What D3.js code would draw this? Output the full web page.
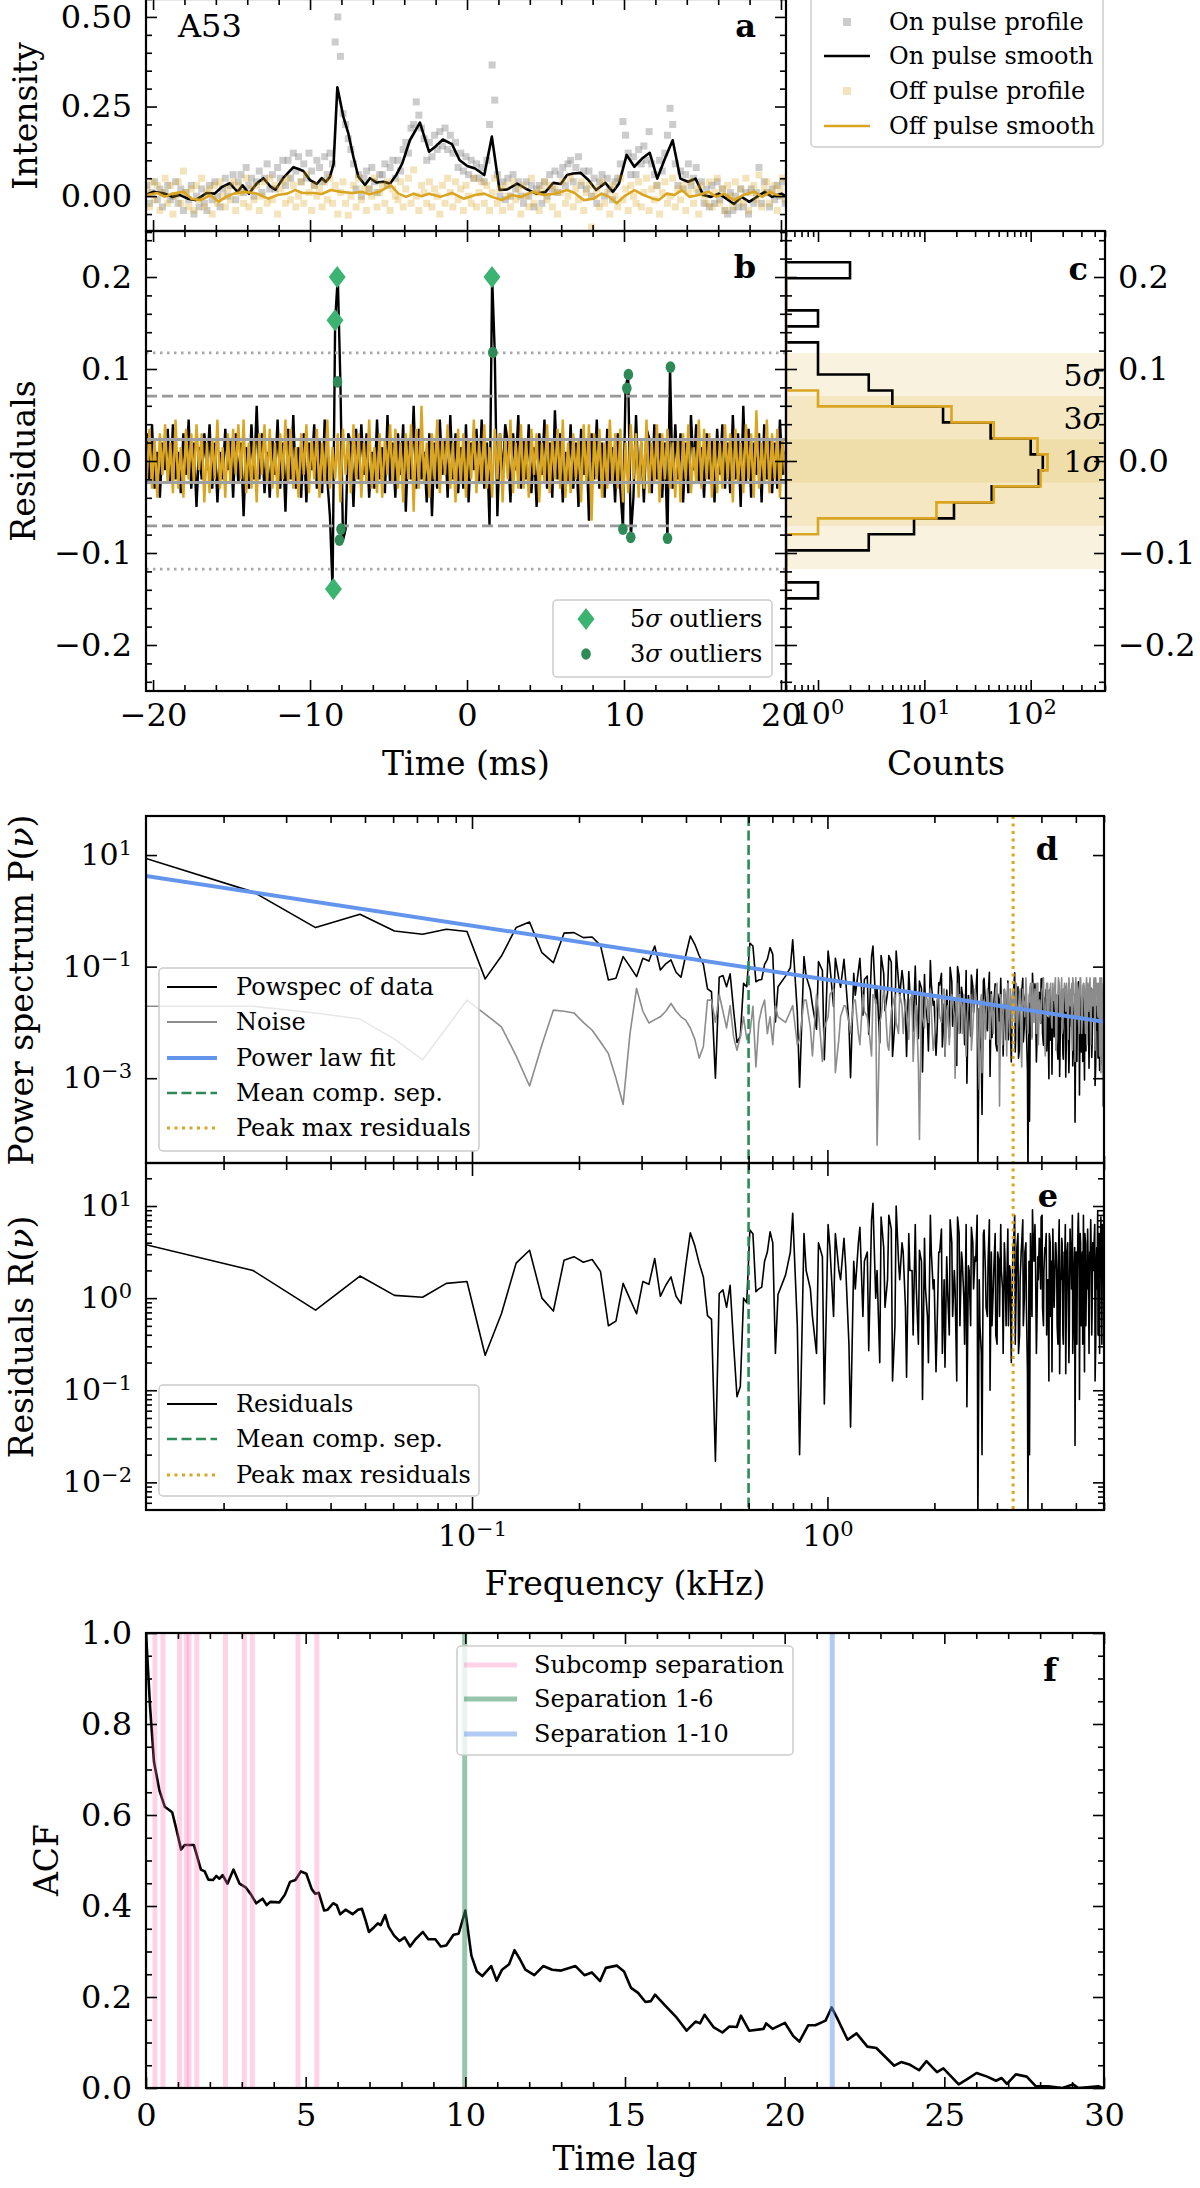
<!DOCTYPE html>
<html>
<head>
<meta charset="utf-8">
<script src="https://cdn.jsdelivr.net/npm/d3@7"></script>
<style>
  body { margin: 0; background: #fff; }
  svg text { font-family: "DejaVu Serif", serif; }
</style>
</head>
<body>
<svg id="chart" width="1200" height="2188"></svg>
<script>
// ---------- data: pulse profile (panel a) ----------
var TIME_START = -20.4, TIME_STEP = 1 / 6;   // sample grid in ms

var onPulseProfile = [
  0.03, -0.02, 0.01, 0.04, -0.01, 0.02,
  -0.03, 0.01, 0.03, -0.01, 0.0, 0.04,
  -0.02, 0.02, -0.04, 0.01, -0.01, 0.03,
  -0.05, 0.0, -0.03, 0.02, -0.02, -0.04,
  0.03, -0.01, 0.04, 0.0, -0.03, 0.02,
  0.05, 0.0, 0.03, 0.06, -0.01, 0.04,
  0.06, 0.01, 0.08, 0.03, 0.05, 0.0,
  0.04, 0.07, 0.01, 0.05, 0.09, 0.02,
  0.06, 0.02, 0.08, 0.05, 0.1, 0.03,
  0.1, 0.05, 0.12, 0.07, 0.11, 0.04,
  0.09, 0.05, 0.12, 0.07, 0.03, 0.1,
  0.08, 0.04, 0.11, 0.06, 0.12, 0.09,
  0.43, 0.5, 0.39, 0.23, 0.2, 0.16,
  0.13, 0.09, 0.02, 0.06, 0.0, 0.05,
  0.07, 0.02, 0.08, 0.04, 0.01, 0.06,
  0.06, 0.09, 0.03, 0.08, 0.1, 0.05,
  0.1, 0.07, 0.13, 0.15, 0.12, 0.19,
  0.2, 0.263, 0.226, 0.19, 0.16, 0.1,
  0.15, 0.11, 0.17, 0.13, 0.18, 0.14,
  0.19, 0.13, 0.17, 0.12, 0.15, 0.08,
  0.12, 0.07, 0.11, 0.06, 0.1, 0.05,
  0.09, 0.05, 0.08, 0.04, 0.1, 0.2,
  0.366, 0.268, 0.06, 0.0, 0.04, -0.01,
  0.05, 0.0, 0.06, 0.02, 0.04, 0.0,
  -0.02, 0.04, 0.0, 0.03, -0.03, 0.02,
  0.03, -0.02, 0.04, 0.0, 0.06, 0.02,
  0.07, 0.01, 0.06, 0.08, 0.03, 0.09,
  0.1, 0.04, 0.08, 0.11, 0.03, 0.07,
  0.02, 0.07, 0.0, 0.05, -0.02, 0.04,
  0.06, 0.0, 0.05, 0.02, -0.01, 0.04,
  0.05, 0.09, 0.208, 0.17, 0.12, 0.06,
  0.11, 0.06, 0.13, 0.09, 0.14, 0.1,
  0.18, 0.09, 0.06, 0.03, 0.1, 0.07,
  0.12, 0.17, 0.245, 0.2, 0.09, 0.03,
  0.07, 0.02, 0.06, 0.09, 0.03, 0.05,
  0.08, 0.01, 0.04, -0.02, 0.02, -0.03,
  0.03, -0.02, 0.04, -0.01, 0.02, -0.04,
  -0.05, 0.01, -0.04, 0.0, -0.03, 0.02,
  -0.03, 0.01, -0.05, 0.02, -0.02, 0.01,
  0.08, -0.02, 0.04, 0.01, -0.03, 0.02,
  -0.01, 0.03, 0.0, 0.04, -0.02
];

var offPulseProfile = [
  0.02, -0.03, 0.04, -0.01, 0.03, -0.04,
  0.01, 0.05, -0.02, 0.03, -0.05, 0.0,
  0.04, -0.02, 0.07, 0.01, -0.03, 0.02,
  -0.04, 0.03, -0.01, 0.05, -0.03, 0.01,
  0.02, -0.05, 0.03, -0.02, 0.04, 0.0,
  -0.03, 0.02, -0.01, 0.04, -0.04, 0.03,
  0.01, -0.02, 0.05, -0.03, 0.02, -0.01,
  0.03, -0.04, 0.0, 0.04, -0.02, 0.05,
  -0.01, 0.03, -0.05, 0.02, 0.04, -0.02,
  0.05, -0.01, 0.03, -0.03, 0.0, 0.04,
  -0.02, 0.06, 0.01, -0.04, 0.03, 0.0,
  0.02, -0.03, 0.04, -0.01, 0.05, -0.02,
  0.03, -0.05, 0.01, 0.04, -0.02, -0.053,
  0.0, 0.03, -0.03, 0.05, -0.01, 0.02,
  -0.04, 0.02, 0.0, 0.05, -0.03, 0.01,
  0.03, -0.02, 0.04, -0.04, 0.02, 0.0,
  -0.01, 0.04, -0.03, 0.02, 0.05, -0.02,
  0.073, 0.0, -0.04, 0.03, 0.01, -0.02,
  0.04, -0.03, 0.02, 0.0, -0.05, 0.03,
  -0.02, 0.05, 0.01, -0.03, 0.04, -0.01,
  0.02, -0.04, 0.03, 0.0, -0.02, 0.05,
  -0.03, 0.01, 0.04, -0.02, 0.03, -0.04,
  0.01, 0.05, -0.02, 0.02, -0.04, 0.03,
  0.0, -0.03, 0.04, -0.01, 0.02, -0.05,
  0.03, 0.0, -0.03, 0.05, -0.02, 0.01,
  -0.04, 0.02, 0.04, -0.01, 0.03, -0.03,
  0.02, -0.05, 0.01, 0.04, -0.02, 0.0,
  0.05, -0.03, 0.02, -0.01, 0.04, -0.04,
  0.01, 0.03, -0.086, 0.0, 0.02, -0.03,
  0.04, -0.02, 0.01, -0.05, 0.03, 0.0,
  -0.03, 0.05, -0.01, 0.02, -0.04, 0.03,
  0.0, -0.02, 0.04, -0.03, 0.01, 0.05,
  -0.04, 0.02, -0.01, 0.03, -0.05, 0.01,
  0.04, -0.02, 0.0, 0.05, -0.03, 0.02,
  -0.01, 0.03, -0.04, 0.01, 0.04, -0.02,
  0.02, -0.05, 0.03, 0.0, -0.02, 0.04,
  -0.03, 0.01, 0.05, -0.02, 0.02, -0.04,
  0.03, 0.0, -0.03, 0.04, -0.01, 0.02,
  -0.02, 0.05, -0.04, 0.01, 0.03, -0.01,
  0.059, -0.03, 0.02, 0.04, -0.02, 0.01,
  0.03, -0.04, 0.02, 0.05, -0.01
];

// smoothed profiles, [time ms, intensity]
var onPulseSmooth = [
  [-20.4, 0.005], [-20.0, 0.012], [-19.26, 0.007], [-18.77, -0.002], [-18.28, 0.003], [-17.79, -0.007],
  [-17.3, -0.011], [-16.96, -0.002], [-16.57, 0.009], [-16.08, 0.007], [-15.6, 0.026], [-15.11, 0.036],
  [-14.62, 0.012], [-14.3, 0.03], [-13.89, 0.007], [-13.4, 0.035], [-12.97, 0.05], [-12.5, 0.026],
  [-12.2, 0.018], [-11.7, 0.051], [-11.06, 0.081], [-10.7, 0.075], [-10.43, 0.07], [-10.0, 0.045],
  [-9.57, 0.034], [-9.25, 0.05], [-9.0, 0.04], [-8.73, 0.054], [-8.5, 0.09], [-8.26, 0.304],
  [-7.88, 0.222], [-7.56, 0.175], [-7.24, 0.11], [-6.92, 0.054], [-6.5, 0.031], [-6.18, 0.05],
  [-5.75, 0.038], [-5.33, 0.04], [-4.9, 0.035], [-4.5, 0.06], [-4.13, 0.091], [-3.64, 0.156],
  [-3.0, 0.205], [-2.42, 0.124], [-2.03, 0.138], [-1.54, 0.158], [-0.96, 0.145], [-0.47, 0.1],
  [0.02, 0.084], [0.51, 0.077], [1.1, 0.059], [1.58, 0.166], [2.07, 0.017], [2.56, 0.019],
  [3.19, 0.035], [3.83, 0.019], [4.41, 0.007], [5.0, 0.012], [5.49, 0.037], [5.97, 0.034],
  [6.37, 0.059], [6.76, 0.063], [7.24, 0.065], [7.73, 0.045], [8.22, 0.017], [8.81, 0.037],
  [9.29, 0.012], [9.68, 0.035], [10.17, 0.115], [10.66, 0.082], [11.15, 0.105], [11.64, 0.121],
  [12.12, 0.049], [12.61, 0.105], [13.1, 0.156], [13.59, 0.049], [14.08, 0.04], [14.56, 0.049],
  [15.05, 0.003], [15.54, -0.002], [16.03, 0.007], [16.52, -0.007], [17.0, -0.022], [17.49, -0.002],
  [17.98, -0.016], [18.47, -0.002], [18.96, 0.012], [19.44, -0.002], [20.03, 0.007], [20.3, 0.0]
];

var offPulseSmooth = [
  [-20.38, 0.003], [-19.75, 0.009], [-19.26, -0.002], [-18.77, 0.007], [-18.04, 0.012], [-17.55, -0.007],
  [-16.96, -0.011], [-16.33, 0.003], [-15.84, -0.016], [-15.35, -0.002], [-14.86, 0.007], [-14.13, 0.012],
  [-13.4, 0.007], [-12.67, -0.007], [-12.08, 0.003], [-11.45, 0.007], [-10.96, 0.017], [-10.47, 0.009],
  [-9.74, 0.009], [-9.25, 0.006], [-8.67, 0.017], [-8.03, 0.012], [-7.3, 0.009], [-6.71, 0.012],
  [-6.23, 0.005], [-5.59, 0.012], [-4.86, 0.031], [-4.37, 0.007], [-3.88, -0.002], [-3.4, 0.007],
  [-2.91, 0.0], [-2.42, 0.007], [-1.69, -0.002], [-0.96, 0.009], [-0.22, -0.007], [0.51, 0.003],
  [1.09, 0.007], [1.58, -0.002], [2.22, -0.011], [2.85, 0.003], [3.44, -0.002], [4.17, 0.012],
  [4.9, 0.003], [5.63, 0.007], [6.37, 0.017], [6.85, 0.009], [7.44, -0.011], [8.07, -0.007],
  [8.56, 0.007], [9.05, -0.002], [9.54, -0.02], [10.03, 0.0], [10.66, 0.017], [11.25, 0.003],
  [11.83, -0.007], [12.22, -0.011], [12.71, 0.007], [13.2, 0.003], [13.69, 0.017], [14.17, -0.002],
  [14.76, 0.003], [15.39, 0.012], [15.88, -0.002], [16.37, 0.007], [17.0, -0.011], [17.59, 0.003],
  [18.32, 0.012], [18.81, -0.002], [19.3, 0.012], [20.03, -0.002]
];

// ---------- data: residuals (panel b) ----------
var onResiduals = [
  0.03, -0.02, 0.04, -0.03, 0.01, -0.04,
  0.02, -0.01, 0.035, -0.025, 0.04, -0.02,
  0.01, -0.035, 0.03, -0.015, 0.045, -0.03,
  0.02, -0.05, 0.015, -0.02, 0.03, -0.01,
  0.04, -0.03, 0.02, -0.045, 0.01, -0.02,
  0.035, -0.01, 0.025, -0.04, 0.03, -0.025,
  0.02, -0.06, 0.015, -0.03, 0.04, -0.02,
  0.06, -0.02, 0.03, -0.035, 0.01, -0.04,
  0.025, -0.015, 0.045, -0.03, 0.02, -0.055,
  0.035, -0.02, 0.05, -0.03, 0.015, -0.04,
  0.03, -0.045, 0.02, -0.01, 0.04, -0.03,
  0.025, -0.035, 0.045, -0.02, -0.06, -0.139,
  0.153, 0.2, 0.086, -0.086, -0.074, 0.03,
  0.02, -0.05, 0.035, -0.02, 0.04, -0.015,
  0.03, -0.04, 0.01, -0.03, 0.045, -0.02,
  0.015, -0.035, 0.05, -0.025, 0.02, -0.04,
  0.03, -0.015, 0.04, -0.055, 0.025, -0.02,
  0.06, -0.03, 0.035, -0.02, 0.01, -0.045,
  0.03, -0.06, 0.02, -0.03, 0.045, -0.015,
  0.025, -0.04, 0.05, -0.02, 0.03, -0.035,
  0.015, -0.03, 0.04, -0.045, 0.02, -0.01,
  0.035, -0.025, 0.045, -0.03, 0.02, -0.07,
  0.2, 0.118, -0.06, 0.03, -0.02, 0.04,
  0.02, -0.045, 0.03, -0.01, 0.05, -0.03,
  0.025, -0.02, 0.04, -0.035, 0.015, -0.05,
  0.03, -0.015, 0.045, -0.03, 0.02, -0.04,
  0.055, -0.02, 0.03, -0.045, 0.01, -0.025,
  0.04, -0.03, 0.02, -0.05, 0.035, -0.015,
  0.025, -0.065, 0.03, -0.02, 0.045, -0.03,
  0.02, -0.04, 0.035, -0.025, 0.015, -0.045,
  0.03, -0.03, -0.074, 0.079, 0.094, -0.083,
  -0.04, 0.05, -0.03, 0.02, -0.045, 0.035,
  0.025, -0.035, 0.04, -0.02, 0.03, -0.04,
  0.02, -0.084, 0.102, -0.03, 0.04, -0.02,
  0.03, -0.045, 0.02, -0.035, 0.05, -0.01,
  0.04, -0.025, 0.015, -0.04, 0.03, -0.02,
  0.025, -0.045, 0.035, -0.015, 0.04, -0.03,
  0.02, -0.035, 0.05, -0.02, 0.03, -0.05,
  0.06, -0.025, 0.035, -0.04, 0.02, -0.015,
  0.03, -0.045, 0.04, -0.02, 0.025, -0.035,
  0.02, -0.03, 0.045, -0.015, 0.01
];

var offResiduals = [
  -0.02, 0.035, -0.03, 0.025, -0.04, 0.03,
  -0.015, 0.04, -0.025, 0.02, -0.035, 0.045,
  -0.03, 0.015, -0.04, 0.035, -0.02, 0.03,
  -0.025, 0.04, -0.01, 0.03, -0.045, 0.02,
  -0.035, 0.025, -0.02, 0.045, -0.03, 0.015,
  -0.04, 0.03, -0.025, 0.035, -0.015, 0.04,
  -0.02, 0.045, -0.035, 0.02, -0.03, 0.025,
  -0.045, 0.03, -0.015, 0.04, -0.025, 0.035,
  -0.03, 0.02, -0.04, 0.03, -0.02, 0.045,
  -0.025, 0.035, -0.03, 0.015, -0.04, 0.03,
  -0.015, 0.04, -0.035, 0.025, -0.02, 0.035,
  -0.04, 0.02, -0.025, 0.045, -0.03, 0.015,
  -0.02, 0.03, -0.045, 0.035, -0.015, 0.025,
  -0.035, 0.04, -0.02, 0.03, -0.04, 0.02,
  -0.025, 0.045, -0.03, 0.015, -0.035, 0.03,
  -0.04, 0.025, -0.015, 0.04, -0.025, 0.035,
  -0.03, 0.02, -0.045, 0.03, -0.02, 0.04,
  -0.055, 0.035, -0.03, 0.06, -0.025, 0.02,
  -0.04, 0.03, -0.02, 0.045, -0.035, 0.025,
  -0.015, 0.04, -0.03, 0.02, -0.045, 0.035,
  -0.025, 0.03, -0.04, 0.025, -0.02, 0.045,
  -0.035, 0.02, -0.025, 0.04, -0.03, 0.015,
  -0.04, 0.035, -0.02, 0.03, -0.045, 0.025,
  -0.02, 0.045, -0.035, 0.02, -0.03, 0.04,
  -0.03, 0.025, -0.04, 0.035, -0.015, 0.03,
  -0.045, 0.02, -0.025, 0.04, -0.035, 0.025,
  -0.02, 0.035, -0.03, 0.045, -0.04, 0.02,
  -0.035, 0.03, -0.02, 0.025, -0.045, 0.04,
  -0.025, 0.04, -0.065, 0.03, -0.02, 0.035,
  -0.04, 0.02, -0.03, 0.045, -0.025, 0.03,
  -0.03, 0.035, -0.045, 0.02, -0.035, 0.04,
  -0.02, 0.03, -0.04, 0.025, -0.03, 0.045,
  -0.035, 0.02, -0.025, 0.04, -0.045, 0.03,
  -0.02, 0.035, -0.03, 0.02, -0.04, 0.025,
  -0.045, 0.03, -0.02, 0.04, -0.035, 0.015,
  -0.025, 0.045, -0.03, 0.035, -0.02, 0.03,
  -0.04, 0.025, -0.035, 0.02, -0.03, 0.04,
  -0.02, 0.03, -0.045, 0.035, -0.025, 0.02,
  -0.035, 0.04, -0.02, 0.03, -0.04, 0.055,
  -0.03, 0.02, -0.025, 0.045, -0.035, 0.03,
  -0.02, 0.035, -0.04, 0.025, -0.015
];

var outliers5 = [[-8.27, 0.2], [-8.41, 0.153], [-8.51, -0.139], [1.59, 0.2]];
var outliers3 = [[-8.25, 0.086], [-8.03, -0.074], [-8.13, -0.086], [1.64, 0.118], [10.28, 0.094],
                 [10.18, 0.079], [9.93, -0.074], [10.43, -0.083], [12.96, 0.102], [12.77, -0.084]];
var sigmaLevels = [0.0235, 0.0705, 0.1175];   // 1, 3, 5 sigma
var sigmaNames = ['1', '3', '5'];

// ---------- data: residual histogram (panel c) ----------
var histEdges = [-0.1493, -0.1319, -0.1145, -0.0971, -0.0797, -0.0624, -0.0450, -0.0276, -0.0102, 0.0072,
                 0.0246, 0.0420, 0.0594, 0.0767, 0.0941, 0.1115, 0.1289, 0.1463, 0.1637, 0.1812, 0.1986, 0.2160];
var onCounts  = [1, 0, 0, 3, 8, 19, 43, 119, 130, 100, 42, 15, 5, 3, 1, 1, 0, 1, 0, 0, 2];
var offCounts = [0, 0, 0, 0, 1, 13, 45, 124, 144, 116, 45, 18, 1, 0, 0, 0, 0, 0, 0, 0, 0];

// ---------- data: power spectrum (panels d, e), values are log10 ----------
var FREQ_RES = 0.0121;  // kHz per bin
var binsLow = d3.range(1, 61), binsHigh = d3.range(63, 496, 3), binsHigh2 = d3.range(65, 496, 3);

var powspecLog = [
  0.94, 0.34, -0.30, -0.06, -0.36, -0.42, -0.33, -0.37, -1.22, -0.81,
  -0.30, -0.20, -0.75, -0.93, -0.40, -0.39, -0.48, -0.47, -0.62, -1.24,
  -1.21, -0.82, -1.0, -1.18, -0.85, -0.9, -0.63, -1.06, -0.95, -0.88,
  -1.1, -1.19, -0.8, -0.45, -0.6, -0.8, -0.96, -1.4, -1.45, -3.0,
  -1.19, -1.16, -1.36, -1.13, -1.78, -2.36, -2.25, -1.3, -1.36, -0.58,
  -0.63, -1.27, -1.24, -1.23, -0.96, -0.87, -0.66, -0.78, -1.99, -1.36,
  -1.17, -0.52, -3.16, -1.17, -1.69, -0.91, -2.67, -0.99, -0.85, -1.37, -1.23, -2.99,
  -1.51, -0.85, -1.23, -2.21, -0.63, -1.37, -0.80, -1.79, -0.80, -2.61, -0.72, -1.53,
  -1.24, -2.61, -1.46, -2.16, -1.67, -1.26, -2.89, -1.70, -2.51, -1.31, -1.62, -2.23,
  -1.33, -2.44, -2.6, -1.76, -1.01, -2.07, -1.78, -1.0, -2.19, -1.49, -2.4, -3.09,
  -1.61, -1.15, -1.82, -1.53, -4.8, -2.24, -3.65, -1.21, -2.06, -1.56, -2.97, -2.27,
  -1.64, -2.38, -1.49, -2.19, -1.7, -2.6, -1.55, -1.91, -2.31, -1.72, -2.12, -1.43,
  -2.53, -1.49, -2.64, -1.84, -1.45, -2.35, -1.56, -2.16, -4.8, -3.77, -1.77, -1.12,
  -1.68, -1.58, -2.39, -1.89, -1.5, -1.22, -2.2, -1.81, -1.61, -2.51, -1.92, -1.42,
  -2.32, -2.93, -1.73, -2.03, -1.54, -2.44, -1.69, -2.97, -1.95, -1.55, -2.66, -1.86,
  -2.98, -1.67, -1.97, -2.57, -1.57, -2.08, -2.78, -1.88, -3.79, -1.69, -1.99, -1.27,
  -3.3, -1.6, -2.0, -2.7, -1.81, -1.51, -2.51, -2.11, -1.72, -2.82, -1.92, -1.62,
  -2.43, -1.73, -1.63, -3.13, -1.94, -2.14, -2.64, -1.54, -2.05, -1.37, -2.75, -1.85,
  -1.6
];
// interleaved high-frequency bins (binsHigh2)
var powspecLog2 = [
  -1.02, -1.82, -0.82, -1.42, -2.12, -1.07, -0.72, -1.72, -1.22, -0.87, -2.02, -1.12,
  -1.07, -1.87, -1.17, -0.82, -1.67, -2.37, -1.12, -1.47, -0.92, -1.97, -1.27, -1.07,
  -1.89, -1.09, -1.49, -0.99, -2.29, -1.39, -1.14, -1.99, -0.89, -1.69, -2.59, -1.29,
  -1.12, -1.67, -1.42, -2.27, -1.27, -1.57, -2.77, -1.17, -1.37, -1.87, -1.07, -1.52,
  -2.25, -1.35, -1.5, -1.05, -1.75, -2.55, -1.25, -1.65, -2.15, -1.1, -1.45, -1.85,
  -1.31, -2.51, -1.61, -1.21, -1.91, -1.41, -2.31, -1.26, -1.66, -2.71, -1.46, -1.11,
  -1.86, -1.36, -2.46, -1.56, -1.21, -2.06, -1.46, -2.86, -1.66, -1.36, -2.26, -1.56,
  -1.31, -2.71, -1.66, -1.46, -2.01, -1.21, -2.41, -1.56, -1.41, -1.91, -3.01, -1.51,
  -1.76, -1.41, -2.26, -1.56, -1.86, -2.66, -1.31, -1.96, -1.51, -2.56, -1.66, -1.36,
  -2.1, -1.6, -2.9, -1.45, -1.8, -1.3, -2.4, -1.65, -1.9, -2.7, -1.4, -1.75,
  -1.53, -2.53, -1.73, -1.33, -3.03, -1.63, -1.88, -1.48, -2.33, -1.73, -1.38, -2.63,
  -1.66, -1.96, -1.46, -2.76, -1.71, -1.31, -2.16, -2.86, -1.56, -1.86, -1.46, -2.06
];

var noiseLog = [
  -1.71, -1.71, -1.83, -1.94, -2.3, -2.67, -2.1, -1.6, -1.85, -2.08,
  -2.6, -3.14, -2.4, -1.78, -1.8, -1.83, -2.0, -2.14, -2.35, -2.56,
  -3.0, -3.47, -2.2, -1.39, -1.8, -2.01, -1.95, -1.9, -1.8, -1.66,
  -1.8, -1.9, -1.96, -2.1, -2.3, -2.64, -2.43, -1.6, -1.6, -2.0,
  -1.5, -1.8, -2.1, -1.7, -2.26, -2.5, -2.26, -1.9, -2.3, -2.2,
  -1.71, -2.8, -2.0, -1.75, -1.6, -2.2, -1.9, -2.4, -1.7, -1.9,
  -2.0, -1.7, -2.3, -1.6, -2.6, -1.8, -2.1, -1.5, -2.9, -1.9, -1.7, -2.2,
  -1.6, -2.4, -1.8, -2.1, -1.5, -4.2, -1.9, -1.6, -2.5, -1.7, -2.0, -1.5,
  -2.2, -1.8, -1.6, -2.7, -1.7, -4.1, -1.9, -1.5, -2.0, -1.8, -2.4, -1.6,
  -1.9, -1.5, -2.6, -1.7, -2.1, -1.6, -3.0, -1.8, -1.5, -2.2, -1.7, -2.0,
  -1.6, -2.5, -1.8, -1.5, -2.2, -1.7, -2.9, -1.6, -1.9, -1.5, -2.3, -1.7,
  -1.8, -1.4, -2.4, -3.5, -1.6, -2.0, -1.5, -2.6, -1.7, -1.4, -2.1, -1.6,
  -1.5, -2.3, -1.7, -1.4, -2.8, -1.6, -1.9, -1.4, -2.2, -1.5, -1.8, -1.3,
  -2.0, -1.5, -1.3, -2.4, -1.6, -1.9, -1.4, -1.6, -2.6, -1.3, -1.8, -1.5,
  -1.3, -2.1, -1.6, -1.4, -2.5, -1.5, -1.2, -1.9, -1.5, -2.2, -1.4, -1.3,
  -1.8, -1.4, -2.3, -1.3, -1.6, -2.0, -1.2, -1.5, -2.7, -1.4, -1.3, -1.9,
  -1.5, -1.2, -2.2, -1.6, -1.3, -1.8, -1.4, -2.4, -1.3, -1.5, -1.2, -2.0,
  -1.4, -1.7, -1.2, -2.5, -1.5, -1.3, -1.9, -1.4, -1.2, -2.9, -1.6, -3.5,
  -2.0
];
var noiseLog2 = [
  -1.8, -2.4, -1.6, -2.1, -1.5, -2.7, -1.9, -1.4, -2.3, -1.7, -2.0, -1.6,
  -2.2, -1.5, -1.9, -2.6, -1.6, -2.0, -1.4, -2.4, -1.8, -1.5, -2.2, -1.7,
  -1.6, -2.3, -1.5, -1.9, -2.8, -1.5, -2.1, -1.6, -1.4, -2.5, -1.8, -1.5,
  -2.0, -1.4, -1.8, -2.4, -1.5, -1.9, -1.3, -2.2, -1.7, -1.5, -2.6, -1.6,
  -1.5, -2.1, -1.4, -1.8, -3.2, -1.5, -1.7, -2.3, -1.4, -1.9, -1.5, -2.2,
  -1.6, -1.3, -2.0, -1.5, -2.4, -1.4, -1.8, -1.3, -2.2, -1.6, -1.4, -2.0,
  -1.3, -1.9, -1.5, -2.5, -1.4, -1.7, -1.2, -2.1, -1.5, -1.3, -2.3, -1.6,
  -1.4, -2.2, -1.3, -1.7, -2.0, -1.4, -1.2, -2.4, -1.5, -1.3, -1.9, -1.4,
  -2.0, -1.3, -1.6, -1.2, -2.3, -1.5, -1.3, -1.8, -1.2, -2.1, -1.4, -1.6,
  -1.3, -2.0, -1.2, -1.7, -1.4, -2.5, -1.3, -1.5, -1.2, -1.9, -1.4, -2.2,
  -1.2, -1.6, -1.9, -1.3, -1.5, -2.2, -1.2, -1.4, -1.8, -1.3, -2.4, -1.5,
  -1.7, -1.3, -2.1, -1.2, -1.5, -1.8, -1.3, -2.6, -1.4, -1.2, -1.6, -1.3
];

var residLog = [
  0.58, 0.30, -0.13, 0.24, 0.03, 0.01, 0.16, 0.18, -0.62, -0.17,
  0.38, 0.52, 0.0, -0.14, 0.41, 0.45, 0.39, 0.42, 0.29, -0.30,
  -0.25, 0.16, -0.01, -0.17, 0.18, 0.15, 0.43, 0.02, 0.14, 0.23,
  0.02, -0.06, 0.35, 0.71, 0.57, 0.38, 0.23, -0.19, -0.23, -1.77,
  0.05, 0.09, -0.1, 0.14, -0.5, -1.07, -0.96, 0.0, -0.05, 0.74,
  0.7, 0.07, 0.1, 0.12, 0.4, 0.5, 0.72, 0.6, -0.6, 0.04,
  0.25, 0.92, -1.7, 0.3, -0.2, 0.6, -1.15, 0.55, 0.7, 0.2, 0.35, -1.4,
  0.1, 0.77, 0.4, -0.57, 1.03, 0.3, 0.88, -0.1, 0.9, -0.9, 1.0, 0.2,
  0.5, -0.86, 0.3, -0.4, 0.1, 0.52, -1.1, 0.1, -0.7, 0.5, 0.2, -0.4,
  0.5, -0.6, -0.75, 0.1, 0.85, -0.2, 0.1, 0.88, -0.3, 0.4, -0.5, -1.18,
  0.3, 0.77, 0.1, 0.4, -2.5, -0.3, -1.7, 0.74, -0.1, 0.4, -1.0, -0.3,
  0.34, -0.4, 0.5, -0.2, 0.3, -0.6, 0.45, 0.1, -0.3, 0.3, -0.1, 0.6,
  -0.5, 0.55, -0.6, 0.2, 0.6, -0.3, 0.5, -0.1, -2.5, -1.7, 0.3, 0.96,
  0.4, 0.5, -0.3, 0.2, 0.6, 0.88, -0.1, 0.3, 0.5, -0.4, 0.2, 0.7,
  -0.2, -0.8, 0.4, 0.1, 0.6, -0.3, 0.45, -0.82, 0.2, 0.6, -0.5, 0.3,
  -0.82, 0.5, 0.2, -0.4, 0.6, 0.1, -0.6, 0.3, -1.6, 0.5, 0.2, 0.92,
  -1.1, 0.6, 0.2, -0.5, 0.4, 0.7, -0.3, 0.1, 0.5, -0.6, 0.3, 0.6,
  -0.2, 0.5, 0.6, -0.9, 0.3, 0.1, -0.4, 0.7, 0.2, 0.88, -0.5, 0.4,
  0.6
];
var residLog2 = [
  0.5, -0.3, 0.7, 0.1, -0.6, 0.45, 0.8, -0.2, 0.3, 0.65, -0.5, 0.4,
  0.6, -0.2, 0.5, 0.85, 0.0, -0.7, 0.55, 0.2, 0.75, -0.3, 0.4, 0.6,
  -0.1, 0.7, 0.3, 0.8, -0.5, 0.4, 0.65, -0.2, 0.9, 0.1, -0.8, 0.5,
  0.75, 0.2, 0.45, -0.4, 0.6, 0.3, -0.9, 0.7, 0.5, 0.0, 0.8, 0.35,
  -0.3, 0.6, 0.45, 0.9, 0.2, -0.6, 0.7, 0.3, -0.2, 0.85, 0.5, 0.1,
  0.7, -0.5, 0.4, 0.8, 0.1, 0.6, -0.3, 0.75, 0.35, -0.7, 0.55, 0.9,
  0.2, 0.7, -0.4, 0.5, 0.85, 0.0, 0.6, -0.8, 0.4, 0.7, -0.2, 0.5,
  0.8, -0.6, 0.45, 0.65, 0.1, 0.9, -0.3, 0.55, 0.7, 0.2, -0.9, 0.6,
  0.4, 0.75, -0.1, 0.6, 0.3, -0.5, 0.85, 0.2, 0.65, -0.4, 0.5, 0.8,
  0.1, 0.6, -0.7, 0.75, 0.4, 0.9, -0.2, 0.55, 0.3, -0.5, 0.8, 0.45,
  0.7, -0.3, 0.5, 0.9, -0.8, 0.6, 0.35, 0.75, -0.1, 0.5, 0.85, -0.4,
  0.6, 0.3, 0.8, -0.5, 0.55, 0.95, 0.1, -0.6, 0.7, 0.4, 0.8, 0.2
];

var powerLawFit = [[0.0121, 4.2], [6.0, 0.0103]];   // [kHz, P]
var meanCompSep = 0.6;       // kHz
var peakMaxResid = 3.33;     // kHz

// ---------- data: ACF (panel f), [time lag, acf] ----------
var acf = [
  [0, 1.0], [0.13, 0.835], [0.25, 0.717], [0.42, 0.654], [0.59, 0.618], [0.82, 0.606], [0.93, 0.575],
  [1.1, 0.524], [1.21, 0.534], [1.5, 0.534], [1.72, 0.48], [1.84, 0.476], [1.95, 0.458], [2.1, 0.457],
  [2.2, 0.466], [2.3, 0.46], [2.4, 0.468], [2.55, 0.449], [2.74, 0.48], [2.93, 0.449], [3.12, 0.441],
  [3.29, 0.425], [3.45, 0.406], [3.65, 0.416], [3.78, 0.402], [3.89, 0.409], [4.18, 0.408], [4.35, 0.425],
  [4.51, 0.453], [4.68, 0.457], [4.85, 0.476], [5.02, 0.471], [5.19, 0.437], [5.3, 0.427], [5.41, 0.429],
  [5.58, 0.39], [5.69, 0.392], [5.86, 0.406], [5.97, 0.402], [6.08, 0.382], [6.25, 0.392], [6.47, 0.382],
  [6.64, 0.392], [6.76, 0.394], [6.87, 0.37], [6.98, 0.343], [7.15, 0.354], [7.26, 0.362], [7.35, 0.358],
  [7.49, 0.38], [7.6, 0.354], [7.77, 0.335], [7.94, 0.323], [8.1, 0.331], [8.27, 0.311], [8.44, 0.327],
  [8.67, 0.343], [8.84, 0.327], [9.06, 0.327], [9.23, 0.311], [9.4, 0.313], [9.63, 0.337], [9.79, 0.339],
  [10.0, 0.39], [10.19, 0.291], [10.36, 0.256], [10.53, 0.246], [10.81, 0.268], [10.98, 0.236], [11.15, 0.26],
  [11.37, 0.272], [11.54, 0.303], [11.71, 0.283], [11.88, 0.26], [12.16, 0.248], [12.44, 0.268], [12.72, 0.26],
  [13.0, 0.258], [13.45, 0.268], [13.73, 0.248], [13.96, 0.254], [14.22, 0.235], [14.4, 0.264], [14.74, 0.269],
  [14.97, 0.256], [15.19, 0.22], [15.41, 0.209], [15.64, 0.189], [15.81, 0.191], [15.94, 0.205], [16.26, 0.181],
  [16.59, 0.157], [16.93, 0.126], [17.21, 0.146], [17.35, 0.142], [17.49, 0.161], [17.77, 0.134], [18.05, 0.122],
  [18.27, 0.135], [18.5, 0.134], [18.63, 0.159], [18.89, 0.126], [19.34, 0.13], [19.42, 0.142], [19.62, 0.13],
  [20.01, 0.143], [20.27, 0.114], [20.46, 0.102], [20.74, 0.138], [20.96, 0.138], [21.28, 0.148], [21.47, 0.177],
  [21.64, 0.154], [21.97, 0.106], [22.25, 0.12], [22.59, 0.091], [22.87, 0.088], [23.43, 0.049], [23.65, 0.057],
  [23.93, 0.051], [24.21, 0.039], [24.44, 0.059], [24.77, 0.035], [24.97, 0.043], [25.45, 0.008], [25.73, 0.02],
  [26.01, 0.033], [26.34, 0.025], [26.62, 0.016], [26.79, 0.022], [26.96, 0.009], [27.24, 0.03], [27.58, 0.025],
  [27.86, 0.004], [28.25, 0.004], [28.7, 0.0], [29.03, 0.008], [29.2, 0.0], [29.82, 0.004], [30, 0.0]
];
var subcompSeparations = [0.28, 0.53, 1.05, 1.26, 1.35, 1.59, 2.49, 3.08, 3.33, 4.76, 5.35];
var separation1to6 = 9.98;
var separation1to10 = 21.49;

// ---------- drawing ----------
var svg = d3.select('#chart');
var FONT = 'DejaVu Serif';
var GOLD = '#daa520', SEA = '#2e8b57', MSEA = '#3cb371', BLUE = '#6495ed';

var L = 146, R = 786, CR = 1105, FR = 1104;

var xTime = d3.scaleLinear().domain([-20.45, 20.32]).range([L, R]);
var yInt = d3.scaleLinear().domain([-0.1, 0.55]).range([232, -1]);
var yRes = d3.scaleLinear().domain([-0.25, 0.25]).range([691, 231]);
var xCnt = d3.scaleLog().domain([0.5, 500]).range([R, CR]);
var xFreq = d3.scaleLog().domain([0.0121, 6.0]).range([L, FR]);
var yPow = d3.scaleLog().domain([Math.pow(10, -4.52), Math.pow(10, 1.7)]).range([1163, 816]);
var yR = d3.scaleLog().domain([Math.pow(10, -2.3), Math.pow(10, 1.467)]).range([1510, 1163]);
var xLag = d3.scaleLinear().domain([0, 30]).range([L, FR]);
var yAcf = d3.scaleLinear().domain([0, 1]).range([2088, 1633]);

function clipGroup(id, x0, y0, x1, y1) {
  svg.append('clipPath').attr('id', id).append('rect')
    .attr('x', x0).attr('y', y0).attr('width', x1 - x0).attr('height', y1 - y0);
  return svg.append('g').attr('clip-path', 'url(#' + id + ')');
}

function axis(orient, scale, at, vals, len, fmt, pad, fs) {
  var mk = { left: d3.axisLeft, right: d3.axisRight, top: d3.axisTop, bottom: d3.axisBottom }[orient];
  var a = mk(scale).tickValues(vals).tickSize(-len).tickPadding(pad || 12)
    .tickFormat(fmt || function() { return ''; });
  var vert = orient === 'left' || orient === 'right';
  var g = svg.append('g').attr('transform', vert ? 'translate(' + at + ',0)' : 'translate(0,' + at + ')').call(a);
  g.select('.domain').remove();
  g.attr('font-family', FONT).attr('font-size', fs || 32);
  g.selectAll('.tick line').attr('stroke', '#000').attr('stroke-width', 1.6);
  g.selectAll('.tick text').attr('fill', '#000');
  return g;
}

function powLabels(g, fs) {
  g.selectAll('.tick text').each(function(d) {
    var e = Math.round(Math.log10(d));
    var t = d3.select(this).text('').attr('font-size', fs);
    t.append('tspan').text('10');
    t.append('tspan').attr('dy', '-0.5em').attr('font-size', fs * 0.7).text(e < 0 ? '\u2212' + (-e) : String(e));
  });
}

function logMinors(lo, hi) {
  var out = [];
  for (var e = -6; e <= 3; e++) for (var m = 2; m <= 9; m++) {
    var v = m * Math.pow(10, e);
    if (v >= lo && v <= hi) out.push(v);
  }
  return out;
}

function frame(x0, y0, x1, y1) {
  svg.append('rect').attr('x', x0).attr('y', y0).attr('width', x1 - x0).attr('height', y1 - y0)
    .attr('fill', 'none').attr('stroke', '#000').attr('stroke-width', 2.2);
}

function label(x, y, s, opts) {
  opts = opts || {};
  var t = svg.append('text').attr('x', x).attr('y', y).attr('font-family', FONT)
    .attr('font-size', opts.size || 33).attr('text-anchor', opts.anchor || 'middle')
    .attr('font-weight', opts.bold ? 'bold' : null).attr('fill', '#000');
  if (opts.rotate) t.attr('transform', 'rotate(-90,' + x + ',' + y + ')');
  return t.text(s);
}

function legendBox(x0, y0, x1, y1) {
  svg.append('rect').attr('x', x0).attr('y', y0).attr('width', x1 - x0).attr('height', y1 - y0)
    .attr('rx', 4).attr('fill', '#fff').attr('fill-opacity', 0.8)
    .attr('stroke', '#cccccc').attr('stroke-width', 1.5);
}

function legendLine(x0, x1, y, color, width, dash, opacity) {
  svg.append('line').attr('x1', x0).attr('x2', x1).attr('y1', y).attr('y2', y)
    .attr('stroke', color).attr('stroke-width', width).attr('stroke-dasharray', dash || null)
    .attr('stroke-opacity', opacity == null ? 1 : opacity);
}

function legendText(x, y, s) {
  return svg.append('text').attr('x', x).attr('y', y + 8).attr('font-family', FONT)
    .attr('font-size', 24).attr('fill', '#000').text(s);
}

function sigmaText(t, n, rest) {
  t.text('');
  t.append('tspan').text(n);
  t.append('tspan').attr('font-style', 'italic').text('\u03c3');
  if (rest) t.append('tspan').text(rest);
}

var tAt = function(i) { return TIME_START + i * TIME_STEP; };

// ===== panel a =====
var gA = clipGroup('clipA', L, -1, R, 231);
gA.selectAll('rect.on').data(onPulseProfile).join('rect').attr('class', 'on')
  .attr('x', function(d, i) { return xTime(tAt(i)) - 3.5; }).attr('y', function(d) { return yInt(d) - 3.5; })
  .attr('width', 7).attr('height', 7).attr('fill', '#808080').attr('fill-opacity', 0.4);
gA.append('path').datum(onPulseSmooth)
  .attr('d', d3.line().x(function(d) { return xTime(d[0]); }).y(function(d) { return yInt(d[1]); }))
  .attr('fill', 'none').attr('stroke', '#000').attr('stroke-width', 2.6).attr('stroke-linejoin', 'round');
gA.selectAll('rect.off').data(offPulseProfile).join('rect').attr('class', 'off')
  .attr('x', function(d, i) { return xTime(tAt(i)) - 3.5; }).attr('y', function(d) { return yInt(d) - 3.5; })
  .attr('width', 7).attr('height', 7).attr('fill', GOLD).attr('fill-opacity', 0.3);
gA.append('path').datum(offPulseSmooth)
  .attr('d', d3.line().x(function(d) { return xTime(d[0]); }).y(function(d) { return yInt(d[1]); }))
  .attr('fill', 'none').attr('stroke', GOLD).attr('stroke-width', 2.6).attr('stroke-linejoin', 'round');

var timeMin = d3.range(-18, 20, 2).filter(function(v) { return v % 10 !== 0; });
axis('left', yInt, L, [0, 0.25, 0.5], 11, d3.format('.2f'), 14);
axis('left', yInt, L, [-0.1, -0.05, 0.05, 0.1, 0.15, 0.2, 0.3, 0.35, 0.4, 0.45, 0.55], 6);
axis('right', yInt, R, [0, 0.25, 0.5], 11);
axis('right', yInt, R, [-0.1, -0.05, 0.05, 0.1, 0.15, 0.2, 0.3, 0.35, 0.4, 0.45, 0.55], 6);
axis('bottom', xTime, 231, [-20, -10, 0, 10, 20], 11);
axis('bottom', xTime, 231, timeMin, 6);
axis('top', xTime, -1, [-20, -10, 0, 10, 20], 11);
axis('top', xTime, -1, timeMin, 6);
frame(L, -1, R, 231);
label(178, 37, 'A53', { anchor: 'start', size: 32 });
label(756, 37, 'a', { anchor: 'end', size: 32, bold: true });
label(25, 116, 'Intensity', { rotate: true }).attr('dy', '0.35em');

// legend a
legendBox(811, -3, 1103, 147);
svg.append('rect').attr('x', 843).attr('y', 18).attr('width', 8).attr('height', 8).attr('fill', '#808080').attr('fill-opacity', 0.4);
legendText(889, 22, 'On pulse profile');
legendLine(824, 870, 56, '#000', 2.6);
legendText(889, 56, 'On pulse smooth');
svg.append('rect').attr('x', 843).attr('y', 87).attr('width', 8).attr('height', 8).attr('fill', GOLD).attr('fill-opacity', 0.3);
legendText(889, 91, 'Off pulse profile');
legendLine(824, 870, 126, GOLD, 2.6);
legendText(889, 126, 'Off pulse smooth');

// ===== panel b =====
var gB = clipGroup('clipB', L, 231, R, 691);
var resLine = d3.line().x(function(d, i) { return xTime(tAt(i)); }).y(function(d) { return yRes(d); });
gB.append('path').datum(onResiduals).attr('d', resLine)
  .attr('fill', 'none').attr('stroke', '#000').attr('stroke-width', 2.4);
gB.append('path').datum(offResiduals).attr('d', resLine)
  .attr('fill', 'none').attr('stroke', GOLD).attr('stroke-width', 2.4);
var sigStyles = [
  { dash: null, w: 3, c: '#a0a0a0' },
  { dash: '11,5', w: 2.6, c: '#999999' },
  { dash: '2.5,4.5', w: 2.6, c: '#a8a8a8' }
];
sigmaLevels.forEach(function(s, k) {
  [s, -s].forEach(function(v) {
    gB.append('line').attr('x1', L).attr('x2', R).attr('y1', yRes(v)).attr('y2', yRes(v))
      .attr('stroke', sigStyles[k].c).attr('stroke-width', sigStyles[k].w)
      .attr('stroke-dasharray', sigStyles[k].dash);
  });
});
gB.selectAll('path.dia').data(outliers5).join('path').attr('class', 'dia')
  .attr('transform', function(d) { return 'translate(' + xTime(d[0]) + ',' + yRes(d[1]) + ')'; })
  .attr('d', 'M0,-11L8.5,0L0,11L-8.5,0Z').attr('fill', MSEA);
gB.selectAll('ellipse').data(outliers3).join('ellipse')
  .attr('cx', function(d) { return xTime(d[0]); }).attr('cy', function(d) { return yRes(d[1]); })
  .attr('rx', 4.8).attr('ry', 5.8).attr('fill', SEA);

var resMaj = [-0.2, -0.1, 0, 0.1, 0.2];
var resMin = d3.range(-0.24, 0.25, 0.02).filter(function(v) { return Math.abs(Math.round(v * 100)) % 10 !== 0; });
axis('left', yRes, L, resMaj, 11, d3.format('.1f'), 14);
axis('left', yRes, L, resMin, 6);
axis('right', yRes, R, resMaj, 11);
axis('right', yRes, R, resMin, 6);
axis('bottom', xTime, 691, [-20, -10, 0, 10, 20], 11, d3.format('d'), 12);
axis('bottom', xTime, 691, timeMin, 6);
axis('top', xTime, 231, [-20, -10, 0, 10, 20], 11);
axis('top', xTime, 231, timeMin, 6);
frame(L, 231, R, 691);
label(756, 278, 'b', { anchor: 'end', size: 32, bold: true });
label(23, 461, 'Residuals', { rotate: true }).attr('dy', '0.35em');
label(466, 775, 'Time (ms)');

// legend b
legendBox(553, 600, 772, 677);
svg.append('path').attr('transform', 'translate(586,619)').attr('d', 'M0,-11L8.5,0L0,11L-8.5,0Z').attr('fill', MSEA);
svg.append('ellipse').attr('cx', 586).attr('cy', 654).attr('rx', 4.8).attr('ry', 5.8).attr('fill', SEA);
sigmaText(legendText(630, 619, ''), '5', ' outliers');
sigmaText(legendText(630, 654, ''), '3', ' outliers');

// ===== panel c =====
var gC = clipGroup('clipC', R, 231, CR, 691);
sigmaLevels.slice().reverse().forEach(function(s) {
  gC.append('rect').attr('x', R).attr('width', CR - R).attr('y', yRes(s)).attr('height', yRes(-s) - yRes(s))
    .attr('fill', GOLD).attr('fill-opacity', 0.15);
});
function stepPoints(counts) {
  var x0 = xCnt.range()[0], pts = [[x0, yRes(histEdges[0])]];
  counts.forEach(function(c, i) {
    var x = c > 0 ? xCnt(c) : x0;
    pts.push([x, yRes(histEdges[i])]);
    pts.push([x, yRes(histEdges[i + 1])]);
  });
  pts.push([x0, yRes(histEdges[histEdges.length - 1])]);
  return pts;
}
gC.append('path').datum(stepPoints(onCounts)).attr('d', d3.line())
  .attr('fill', 'none').attr('stroke', '#000').attr('stroke-width', 2.6);
gC.append('path').datum(stepPoints(offCounts)).attr('d', d3.line())
  .attr('fill', 'none').attr('stroke', GOLD).attr('stroke-width', 2.6);

axis('right', yRes, CR, resMaj, 11, d3.format('.1f'), 13);
axis('right', yRes, CR, resMin, 6);
axis('left', yRes, R, resMaj, 11);
axis('left', yRes, R, resMin, 6);
var cntMin = logMinors(0.5, 500);
powLabels(axis('bottom', xCnt, 691, [1, 10, 100], 11, String, 12), 30);
axis('bottom', xCnt, 691, cntMin, 6);
axis('top', xCnt, 231, [1, 10, 100], 11);
axis('top', xCnt, 231, cntMin, 6);
frame(R, 231, CR, 691);
label(1088, 280, 'c', { anchor: 'end', size: 32, bold: true });
sigmaLevels.forEach(function(s, k) {
  var yMid = k === 0 ? yRes(0) : yRes((sigmaLevels[k] + sigmaLevels[k - 1]) / 2);
  sigmaText(label(1103, yMid + 11, '', { anchor: 'end', size: 30 }), sigmaNames[k]);
});
label(946, 775, 'Counts');

// ===== panel d =====
// merge the two interleaved high-frequency sets into one frequency-ordered series
var spec = binsLow.concat(binsHigh).map(function(k, i) {
  return { f: k * FREQ_RES, p: powspecLog[i], n: noiseLog[i], r: residLog[i] };
}).concat(binsHigh2.map(function(k, i) {
  return { f: k * FREQ_RES, p: powspecLog2[i], n: noiseLog2[i], r: residLog2[i] };
})).sort(function(a, b) { return a.f - b.f; });

function specLine(ys, key) {
  return d3.line().x(function(d) { return xFreq(d.f); }).y(function(d) { return ys(Math.pow(10, d[key])); });
}
var gD = clipGroup('clipD', L, 816, FR, 1163);
gD.append('path').datum(spec).attr('d', specLine(yPow, 'p'))
  .attr('fill', 'none').attr('stroke', '#000').attr('stroke-width', 1.6).attr('stroke-linejoin', 'round');
gD.append('path').datum(spec).attr('d', specLine(yPow, 'n'))
  .attr('fill', 'none').attr('stroke', '#8c8c8c').attr('stroke-width', 1.6).attr('stroke-linejoin', 'round');
gD.append('path').datum(powerLawFit)
  .attr('d', d3.line().x(function(d) { return xFreq(d[0]); }).y(function(d) { return yPow(d[1]); }))
  .attr('fill', 'none').attr('stroke', BLUE).attr('stroke-width', 4);

// ===== panel e =====
var gE = clipGroup('clipE', L, 1163, FR, 1510);
gE.append('path').datum(spec).attr('d', specLine(yR, 'r'))
  .attr('fill', 'none').attr('stroke', '#000').attr('stroke-width', 1.6).attr('stroke-linejoin', 'round');

// vertical markers across d and e
[gD, gE].forEach(function(g) {
  g.append('line').attr('x1', xFreq(meanCompSep)).attr('x2', xFreq(meanCompSep)).attr('y1', 816).attr('y2', 1510)
    .attr('stroke', SEA).attr('stroke-width', 2.6).attr('stroke-dasharray', '10,4.5');
  g.append('line').attr('x1', xFreq(peakMaxResid)).attr('x2', xFreq(peakMaxResid)).attr('y1', 816).attr('y2', 1510)
    .attr('stroke', GOLD).attr('stroke-width', 3).attr('stroke-dasharray', '3,4.5');
});

var fMaj = [0.1, 1], fMin = logMinors(0.0121, 6.0);
[816, 1163].forEach(function(y) {
  axis('top', xFreq, y, fMaj, 13);
  axis('top', xFreq, y, fMin, 7);
});
[1163, 1510].forEach(function(y) {
  axis('bottom', xFreq, y, fMaj, 13);
  axis('bottom', xFreq, y, fMin, 7);
});
powLabels(axis('bottom', xFreq, 1510, fMaj, 0, String, 15), 30);

var pMaj = [10, 0.1, 0.001];
powLabels(axis('left', yPow, L, pMaj, 11, String, 14), 30);
axis('right', yPow, FR, pMaj, 11);
var rMaj = [10, 1, 0.1, 0.01], rMin = logMinors(Math.pow(10, -2.3), Math.pow(10, 1.467));
powLabels(axis('left', yR, L, rMaj, 11, String, 14), 30);
axis('left', yR, L, rMin, 6);
axis('right', yR, FR, rMaj, 11);
axis('right', yR, FR, rMin, 6);
frame(L, 816, FR, 1163);
frame(L, 1163, FR, 1510);
label(1058, 860, 'd', { anchor: 'end', size: 32, bold: true });
label(1058, 1207, 'e', { anchor: 'end', size: 32, bold: true });

var pl = label(21, 990, 'Power spectrum P(', { rotate: true }).attr('dy', '0.35em');
pl.append('tspan').attr('font-style', 'italic').text('\u03bd');
pl.append('tspan').text(')');
var rl = label(21, 1337, 'Residuals R(', { rotate: true }).attr('dy', '0.35em');
rl.append('tspan').attr('font-style', 'italic').text('\u03bd');
rl.append('tspan').text(')');
label(625, 1595, 'Frequency (kHz)');

// legend d
legendBox(159, 968, 479, 1151);
legendLine(167, 217, 987, '#000', 2.2);
legendText(236, 987, 'Powspec of data');
legendLine(167, 217, 1022, '#8c8c8c', 2.2);
legendText(236, 1022, 'Noise');
legendLine(167, 217, 1058, BLUE, 4);
legendText(236, 1058, 'Power law fit');
legendLine(167, 217, 1093, SEA, 2.6, '10,4.5');
legendText(236, 1093, 'Mean comp. sep.');
legendLine(167, 217, 1128, GOLD, 3, '3,4.5');
legendText(236, 1128, 'Peak max residuals');

// legend e
legendBox(159, 1385, 479, 1496);
legendLine(167, 217, 1404, '#000', 2.2);
legendText(236, 1404, 'Residuals');
legendLine(167, 217, 1439, SEA, 2.6, '10,4.5');
legendText(236, 1439, 'Mean comp. sep.');
legendLine(167, 217, 1475, GOLD, 3, '3,4.5');
legendText(236, 1475, 'Peak max residuals');

// ===== panel f =====
var gF = clipGroup('clipF', L, 1633, FR, 2088);
gF.append('path').datum(acf)
  .attr('d', d3.line().x(function(d) { return xLag(d[0]); }).y(function(d) { return yAcf(d[1]); }))
  .attr('fill', 'none').attr('stroke', '#000').attr('stroke-width', 2.6).attr('stroke-linejoin', 'round');
gF.selectAll('line.sub').data(subcompSeparations).join('line').attr('class', 'sub')
  .attr('x1', function(d) { return xLag(d); }).attr('x2', function(d) { return xLag(d); })
  .attr('y1', 1633).attr('y2', 2088).attr('stroke', '#ff69b4').attr('stroke-opacity', 0.3).attr('stroke-width', 5);
gF.append('line').attr('x1', xLag(separation1to6)).attr('x2', xLag(separation1to6)).attr('y1', 1633).attr('y2', 2088)
  .attr('stroke', SEA).attr('stroke-opacity', 0.5).attr('stroke-width', 5);
gF.append('line').attr('x1', xLag(separation1to10)).attr('x2', xLag(separation1to10)).attr('y1', 1633).attr('y2', 2088)
  .attr('stroke', BLUE).attr('stroke-opacity', 0.5).attr('stroke-width', 5);

var lagMin = d3.range(0, 31).filter(function(v) { return v % 5 !== 0; });
var acfMaj = [0, 0.2, 0.4, 0.6, 0.8, 1.0];
var acfMin = d3.range(0.05, 1, 0.05).filter(function(v) { return Math.round(v * 100) % 20 !== 0; });
axis('bottom', xLag, 2088, d3.range(0, 31, 5), 11, d3.format('d'), 15);
axis('bottom', xLag, 2088, lagMin, 6);
axis('top', xLag, 1633, d3.range(0, 31, 5), 11);
axis('top', xLag, 1633, lagMin, 6);
axis('left', yAcf, L, acfMaj, 11, d3.format('.1f'), 14);
axis('left', yAcf, L, acfMin, 6);
axis('right', yAcf, FR, acfMaj, 11);
axis('right', yAcf, FR, acfMin, 6);
frame(L, 1633, FR, 2088);
label(1057, 1681, 'f', { anchor: 'end', size: 32, bold: true });
label(46, 1860, 'ACF', { rotate: true }).attr('dy', '0.35em');
label(625, 2170, 'Time lag');

// legend f
legendBox(457, 1646, 793, 1755);
legendLine(464, 517, 1665, '#ff69b4', 5, null, 0.3);
legendText(534, 1665, 'Subcomp separation');
legendLine(464, 517, 1699, SEA, 5, null, 0.5);
legendText(534, 1699, 'Separation 1-6');
legendLine(464, 517, 1734, BLUE, 5, null, 0.5);
legendText(534, 1734, 'Separation 1-10');
</script>
</body>
</html>
